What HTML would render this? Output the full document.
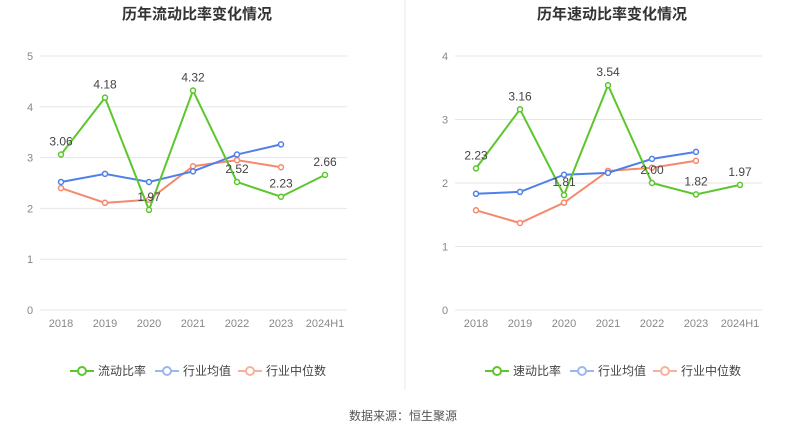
<!DOCTYPE html>
<html><head><meta charset="utf-8"><style>
body{margin:0;background:#fff;width:807px;height:436px;overflow:hidden;font-family:"Liberation Sans","Noto Sans CJK SC",sans-serif}
</style></head><body>
<svg id="c" width="807" height="436" xmlns="http://www.w3.org/2000/svg" style="font-family:'Liberation Sans','Noto Sans CJK SC',sans-serif">
<line x1="405" y1="0" x2="405" y2="390" stroke="#e8e8e8"/>
<text x="403" y="420" text-anchor="middle" font-size="12" fill="#555">数据来源：恒生聚源</text>
</svg>
<script>
const categories=["2018","2019","2020","2021","2022","2023","2024H1"];
const currentRatio=[3.06,4.18,1.97,4.32,2.52,2.23,2.66];
const currentAvg=[2.52,2.68,2.52,2.73,3.06,3.26];
const currentMedian=[2.40,2.11,2.17,2.83,2.95,2.81];
const quickRatio=[2.23,3.16,1.81,3.54,2.00,1.82,1.97];
const quickAvg=[1.83,1.86,2.13,2.16,2.38,2.49];
const quickMedian=[1.57,1.37,1.69,2.19,2.24,2.35];
const leftTicks=[0,1,2,3,4,5];
const rightTicks=[0,1,2,3,4];
const svg=document.getElementById('c');
const NS="http://www.w3.org/2000/svg";
function mk(tag,attrs,parent){const e=document.createElementNS(NS,tag);for(const k in attrs)e.setAttribute(k,attrs[k]);(parent||svg).appendChild(e);return e;}
function panel(o){
  const g=mk('g',{});
  
  
  const t=mk('text',{x:o.cx,y:19,'text-anchor':'middle','font-size':15,'font-weight':'bold',fill:'#333'},g);t.textContent=o.title;
  
  
  const max=o.ticks[o.ticks.length-1];
  const y=v=>310-v/max*254;
  const x=i=>o.x0+i*44;
  o.ticks.forEach(v=>{
    const l=mk('line',{x1:o.x0-21,x2:o.x0+286,y1:y(v),y2:y(v),stroke:'#e6e6e6'},g);
    
    
    const tt=mk('text',{x:o.x0-31,y:y(v)+4,'text-anchor':'middle','font-size':11,fill:'#888'},g);tt.textContent=v;
    
    
  });
  categories.forEach((c,i)=>{
    const tt=mk('text',{x:x(i),y:327,'text-anchor':'middle','font-size':11,fill:'#888'},g);tt.textContent=c;
    
    
  });
  const series=[[o.median,'#f4896e','median'],[o.avg,'#4f7fe8','avg'],[o.main,'#5cc62e','main']];
  series.forEach(([d,col,n])=>{
    const p=mk('polyline',{points:d.map((v,i)=>x(i)+','+y(v)).join(' '),fill:'none',stroke:col,'stroke-width':2},g);
    
    
    d.forEach((v,i)=>{
      const c=mk('circle',{cx:x(i),cy:y(v),r:2.5,fill:'#fff',stroke:col,'stroke-width':1.5},g);
      
      
    });
  });
  o.main.forEach((v,i)=>{
    const tt=mk('text',{x:x(i),y:y(v)-9,'text-anchor':'middle','font-size':12,fill:'#444'},g);tt.textContent=v.toFixed(2);
    
    
  });
  const lx=o.cx-127;
  [[o.mainName,'#5cc62e'],['行业均值','#9bb6f2'],['行业中位数','#f7b29e']].forEach(([n,col],k)=>{
    const off=[0,85,168][k];
    const lg=mk('g',{},g);
    
    
    mk('line',{x1:lx+off,x2:lx+off+24,y1:371,y2:371,stroke:col,'stroke-width':2},lg);
    mk('circle',{cx:lx+off+12,cy:371,r:4,fill:'#fff',stroke:col,'stroke-width':2},lg);
    const tt=mk('text',{x:lx+off+28,y:375,'font-size':12,fill:'#444'},lg);tt.textContent=n;
  });
}
panel({id:'current-ratio',title:'历年流动比率变化情况',cx:197,x0:61,ticks:leftTicks,main:currentRatio,avg:currentAvg,median:currentMedian,mainName:'流动比率'});
panel({id:'quick-ratio',title:'历年速动比率变化情况',cx:612,x0:476,ticks:rightTicks,main:quickRatio,avg:quickAvg,median:quickMedian,mainName:'速动比率'});
</script>
</body></html>
